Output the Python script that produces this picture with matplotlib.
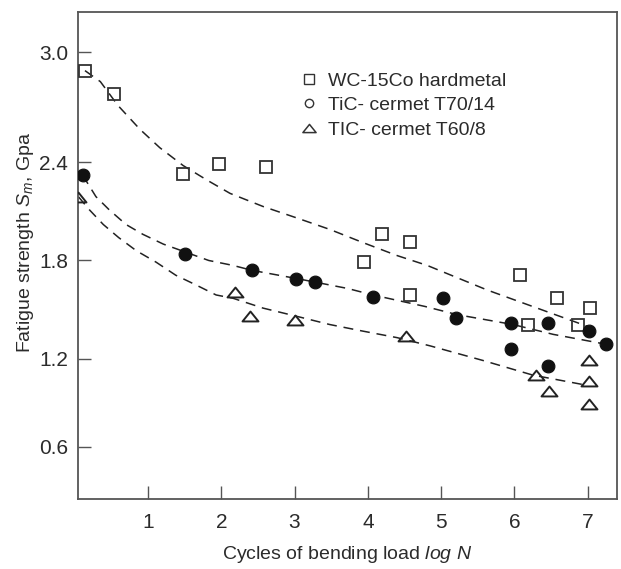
import numpy as np
import matplotlib
matplotlib.use("Agg")
import matplotlib.pyplot as plt
from matplotlib.lines import Line2D
from matplotlib.path import Path
from matplotlib.markers import MarkerStyle

plt.rcParams['font.family'] = ['Liberation Sans', 'DejaVu Sans']
plt.rcParams['mathtext.fontset'] = 'custom'
plt.rcParams['mathtext.rm'] = 'Liberation Sans'
plt.rcParams['mathtext.it'] = 'Liberation Sans:italic'
plt.rcParams['mathtext.bf'] = 'Liberation Sans:bold'

# ---------------- data ----------------
wc_x = [0.14, 0.54, 1.48, 1.97, 2.61, 3.95, 4.19, 4.57, 4.57, 6.07, 6.19, 6.58, 6.87, 7.03]
wc_y = [2.90, 2.77, 2.33, 2.39, 2.37, 1.79, 1.96, 1.91, 1.59, 1.71, 1.41, 1.57, 1.41, 1.51]

t70_x = [0.11, 1.51, 2.42, 3.02, 3.28, 4.07, 5.02, 5.20, 5.96, 5.96, 6.46, 6.46, 7.02, 7.25]
t70_y = [2.32, 1.84, 1.74, 1.69, 1.67, 1.58, 1.57, 1.45, 1.42, 1.26, 1.42, 1.15, 1.37, 1.29]

t60_x = [0.05, 2.19, 2.39, 3.01, 4.52, 6.30, 6.47, 7.02, 7.02, 7.02]
t60_y = [2.19, 1.61, 1.46, 1.44, 1.34, 1.09, 0.98, 1.19, 1.05, 0.89]

# trend curves
wc_fit_x = [0.14, 0.35, 0.59, 0.89, 1.16, 1.48, 1.81, 2.12, 2.57, 3.03, 3.48, 3.93, 4.40, 4.81, 5.63, 6.99]
wc_fit_y = [2.90, 2.84, 2.71, 2.58, 2.48, 2.38, 2.29, 2.21, 2.13, 2.06, 1.99, 1.91, 1.83, 1.77, 1.62, 1.40]

t70_fit_x = [0.11, 0.29, 0.47, 0.70, 0.93, 1.21, 1.52, 1.83, 2.16, 2.42, 3.03, 3.72, 4.07, 4.78, 5.22, 5.98, 6.53, 7.25]
t70_fit_y = [2.32, 2.19, 2.11, 2.02, 1.96, 1.90, 1.85, 1.80, 1.77, 1.74, 1.69, 1.63, 1.59, 1.52, 1.47, 1.41, 1.35, 1.29]

t60_fit_x = [0.05, 0.20, 0.39, 0.60, 0.84, 1.11, 1.38, 1.66, 1.93, 2.16, 2.57, 3.03, 3.48, 3.93, 4.40, 4.85, 5.57, 6.25, 6.99]
t60_fit_y = [2.19, 2.11, 2.02, 1.94, 1.86, 1.79, 1.71, 1.65, 1.59, 1.57, 1.51, 1.46, 1.41, 1.37, 1.33, 1.28, 1.19, 1.09, 1.02]

labels = ["WC-15Co hardmetal", "TiC- cermet T70/14", "TIC- cermet T60/8"]
x_ticks = [1, 2, 3, 4, 5, 6, 7]
y_ticks = [0.6, 1.2, 1.8, 2.4, 3.0]

# --------- y-axis scale (tick spacing of the original is uneven) ---------
SCALE_VALS = np.array([0.0, 0.6, 1.2, 1.8, 2.4, 3.0, 4.0])
SCALE_POS = np.array([-35.4, 52.3, 140.0, 238.5, 336.7, 446.7, 630.0])

def fwd(v):
    return np.interp(v, SCALE_VALS, SCALE_POS)

def inv(p):
    return np.interp(p, SCALE_POS, SCALE_VALS)

# wide triangle marker
tri = MarkerStyle(Path([(-1, -0.62), (1, -0.62), (0, 0.62), (-1, -0.62)],
                       [Path.MOVETO, Path.LINETO, Path.LINETO, Path.CLOSEPOLY]))

fig = plt.figure(figsize=(6.21, 5.69), dpi=100)
ax = fig.add_axes([78 / 621, 70 / 569, 539 / 621, 487 / 569])
ax.set_yscale('function', functions=(fwd, inv))

txt = '#2b2b2b'
edge = '#333333'
dash_kw = dict(color='#222222', lw=1.1, dashes=(6.5, 4.5), zorder=2)

ax.plot(wc_fit_x, wc_fit_y, **dash_kw)
ax.plot(t70_fit_x, t70_fit_y, **dash_kw)
ax.plot(t60_fit_x, t60_fit_y, **dash_kw)

ax.plot(wc_x, wc_y, ls='none', marker='s', ms=8.5, mfc='none', mec=edge, mew=1.3, zorder=3)
ax.plot(t70_x, t70_y, ls='none', marker='o', ms=9.2, mfc='#111111', mec='#111111', mew=0.8, zorder=3)
ax.plot(t60_x, t60_y, ls='none', marker=tri, ms=11.5, mfc='none', mec='#222222', mew=1.4, zorder=3)

ax.set_xlim(0.045, 7.40)
ax.set_ylim(0.2422, 3.2198)
ax.set_xticks(x_ticks)
ax.set_xticklabels([str(t) for t in x_ticks])
ax.set_yticks(y_ticks)
ax.set_yticklabels([f"{t:.1f}" for t in y_ticks])
ax.minorticks_off()

for s in ax.spines.values():
    s.set_color('#555555')
    s.set_linewidth(1.3)
ax.tick_params(direction='in', length=9.5, width=1.0, color='#555555',
               labelsize=15, labelcolor=txt, top=False, right=False)
ax.tick_params(axis='y', pad=7)
ax.tick_params(axis='x', pad=10)

ax.set_xlabel("Cycles of bending load $log\\ N$", fontsize=14, color=txt, labelpad=9)
ax.set_ylabel("Fatigue strength $S_m$, Gpa", fontsize=14, color=txt)
ax.yaxis.set_label_coords(-0.077, 0.526)

handles = [
    Line2D([], [], ls='none', marker='s', ms=7.2, mfc='none', mec=edge, mew=1.0),
    Line2D([], [], ls='none', marker='o', ms=6.0, mfc='none', mec=edge, mew=1.0),
    Line2D([], [], ls='none', marker=tri, ms=9.5, mfc='none', mec=edge, mew=1.1),
]
leg = ax.legend(handles, labels, loc='upper left', bbox_to_anchor=(0.4113, 0.877),
                frameon=False, fontsize=14, handlelength=1.0, handletextpad=0.45,
                labelspacing=0.36, borderpad=0, borderaxespad=0)
for t in leg.get_texts():
    t.set_color(txt)

fig.savefig("out.png", dpi=100)
